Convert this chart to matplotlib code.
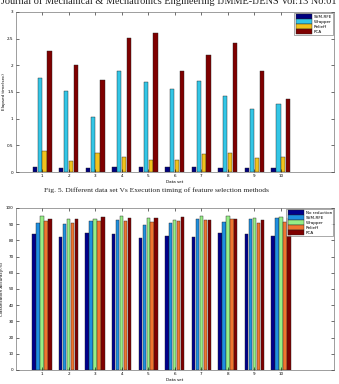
import matplotlib.pyplot as plt
import numpy as np

# data sets 1..10
datasets = [1, 2, 3, 4, 5, 6, 7, 8, 9, 10]

# Fig. 5 - execution time (sec)
time_labels = ['SVM-RFE', 'Wrapper', 'Relieff', 'PCA']
time_svmrfe  = [0.09, 0.08, 0.07, 0.09, 0.10, 0.09, 0.09, 0.08, 0.08, 0.08]
time_wrapper = [1.77, 1.52, 1.03, 1.89, 1.68, 1.56, 1.70, 1.43, 1.18, 1.28]
time_relieff = [0.39, 0.20, 0.36, 0.29, 0.22, 0.22, 0.33, 0.35, 0.27, 0.29]
time_pca     = [2.26, 2.01, 1.73, 2.52, 2.61, 1.89, 2.20, 2.41, 1.89, 1.36]

# classification accuracy (%)
acc_labels = ['No reduction', 'SVM-RFE', 'Wrapper', 'Relieff', 'PCA']
acc_none    = [83.7, 82.3, 84.6, 83.7, 81.7, 82.7, 81.9, 84.4, 83.7, 82.7]
acc_svmrfe  = [90.7, 89.9, 92.0, 92.4, 89.3, 90.7, 93.0, 91.4, 93.0, 93.6]
acc_wrapper = [95.0, 93.2, 93.0, 95.0, 94.0, 92.4, 95.0, 95.0, 93.6, 94.2]
acc_relieff = [92.0, 90.7, 92.0, 92.0, 91.2, 91.8, 92.6, 93.0, 90.7, 91.4]
acc_pca     = [93.0, 93.0, 94.2, 93.8, 94.0, 94.4, 92.6, 93.2, 92.6, 93.6]

serif = 'Liberation Serif'

def grouped_bars(ax, series, labels, colors, step, width):
	x = np.array(datasets)
	n = len(series)
	for i in range(n):
		off = (i - (n-1)/2.0) * step
		ax.bar(x + off, series[i], width, color=colors[i], edgecolor='#222222', linewidth=0.3, label=labels[i])
	ax.set_xlim(0, 12)
	ax.set_xticks(datasets)
	ax.tick_params(direction='in', length=2, width=0.4, labelsize=3, pad=1.5, top=True, right=True)
	for s in ax.spines.values():
		s.set_linewidth(0.4)
		s.set_color('#555555')
	ax.set_xlabel('Data set', fontsize=3, labelpad=1.5)
	leg = ax.legend(loc='upper right', fontsize=3, frameon=True, fancybox=False,
					handlelength=4, handleheight=1.3, borderpad=0.3, labelspacing=0.1,
					handletextpad=0.3, borderaxespad=0.2)
	leg.get_frame().set_linewidth(0.4)
	leg.get_frame().set_edgecolor('#444444')

fig = plt.figure(figsize=(3.39, 3.84), dpi=100)

# header of the page (cut at the top)
fig.text(0.497, 0.997, 'Journal of Mechanical & Mechatronics Engineering IJMME-IJENS Vol:13 No:01',
		 ha='center', va='center', fontsize=7.4, family=serif, color='#222222')

#Temps d'execution
ax1 = fig.add_axes([0.046, 0.552, 0.939, 0.417])
grouped_bars(ax1, [time_svmrfe, time_wrapper, time_relieff, time_pca], time_labels,
			 ['#00007f', '#33c6e6', '#f2c21c', '#7f0000'], 0.184, 0.16)
ax1.set_ylim(0, 3)
ax1.set_yticks([0, 0.5, 1, 1.5, 2, 2.5, 3])
ax1.set_yticklabels(['0', '0.5', '1', '1.5', '2', '2.5', '3'])
ax1.set_ylabel('Elapsed time(sec)', fontsize=3, labelpad=1)

fig.text(0.46, 0.505, 'Fig. 5. Different data set Vs Execution timing of feature selection methods',
		 ha='center', va='center', fontsize=5.4, family=serif, color='#222222')

#Precision
ax2 = fig.add_axes([0.046, 0.0365, 0.939, 0.422])
grouped_bars(ax2, [acc_none, acc_svmrfe, acc_wrapper, acc_relieff, acc_pca], acc_labels,
			 ['#00008c', '#1e8fe0', '#96ee86', '#f07530', '#7f0000'], 0.15, 0.13)
ax2.set_ylim(0, 100)
ax2.set_yticks(np.arange(0, 101, 10))
ax2.set_ylabel('Classification Accuracy(%)', fontsize=3, labelpad=1)

plt.savefig('out.png', dpi=100)
